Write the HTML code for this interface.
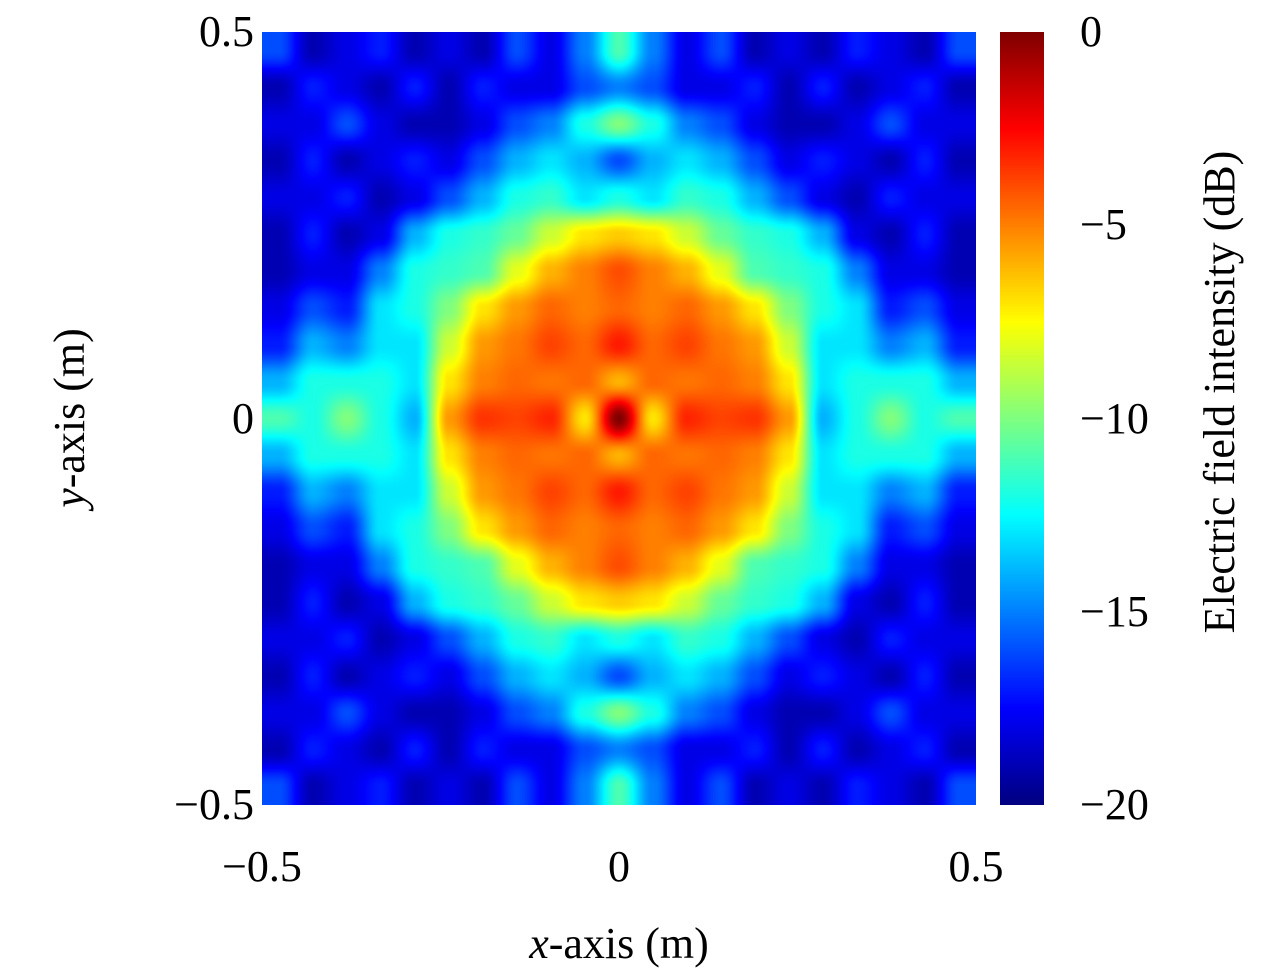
<!DOCTYPE html>
<html><head><meta charset="utf-8">
<style>
html,body{margin:0;padding:0;background:#fff;}
#wrap{position:relative;width:1280px;height:978px;overflow:hidden;font-family:"Liberation Serif",serif;color:#000;}
.t{position:absolute;font-size:44px;line-height:44px;white-space:nowrap;}
canvas{position:absolute;}
</style></head>
<body>
<div id="wrap">
<canvas id="heat" width="714" height="773" style="left:262px;top:32px"></canvas>
<canvas id="cbar" width="44" height="773" style="left:1000px;top:32px"></canvas>
<div id="labels"></div>
<div class="t" style="left:619px;top:922px;transform:translateX(-50%)"><i>x</i>-axis (m)</div>
<div class="t" style="left:70px;top:418px;transform:translate(-50%,-50%) rotate(-90deg)"><i>y</i>-axis (m)</div>
<div class="t" style="left:1220px;top:392px;transform:translate(-50%,-50%) rotate(-90deg)">Electric field intensity (dB)</div>
</div>
<script>
// Quarter data (vertical offset j rows, horizontal offset i cols), dB values
const quarter = [
 [0,-7,-3.2,-3.8,-3.5,-5.5,-14,-12,-10,-12,-11],
 [-6,-4.5,-4.8,-4.5,-5,-7,-13,-12,-12,-12,-14],
 [-3,-4.5,-3.8,-4.8,-5.5,-8.5,-13,-13,-15,-14,-17],
 [-4.5,-5,-4.5,-5.5,-7,-10,-12,-13,-17,-16,-18],
 [-4,-5,-6,-8,-11,-11.5,-12,-15,-18,-18,-19],
 [-6.5,-7,-8.5,-10.5,-11.5,-12,-14,-18,-19,-17,-19],
 [-12,-13,-11.5,-12,-14,-16,-18,-19,-17,-18,-18],
 [-16,-14,-13,-14,-16,-18,-17,-18,-19,-17,-19],
 [-10,-12,-15,-16,-18,-19,-19,-18,-16,-18,-18],
 [-15,-16,-18,-18,-17,-19,-17,-19,-18,-17,-19],
 [-11,-15,-18,-16,-19,-18,-19,-17,-18,-19,-16]
];
const xTicks = [-0.5, 0, 0.5];
const yTicks = [0.5, 0, -0.5];
const cTicks = [0, -5, -10, -15, -20];
const cMin = -20, cMax = 0;

const N = quarter.length - 1;
function cellVal(r, c){ return quarter[Math.abs(r - N)][Math.abs(c - N)]; }
const G = 2*N + 1;
function xPix(x){ return 262 + (x + 0.5) * 714; }
function yPix(y){ return 32 + (0.5 - y) * 773; }
function jet(v){
  let t = (v - cMin) / (cMax - cMin); t = Math.max(0, Math.min(1, t));
  const cl = a => Math.max(0, Math.min(1, a));
  return [cl(1.5 - Math.abs(4*t - 3))*255, cl(1.5 - Math.abs(4*t - 2))*255, cl(1.5 - Math.abs(4*t - 1))*255];
}
(function(){
  const cv = document.getElementById('heat'), ctx = cv.getContext('2d');
  const W = cv.width, H = cv.height, img = ctx.createImageData(W, H);
  const sm = t => t*t*(3-2*t);
  for (let py = 0; py < H; py++){
    const fy = Math.max(0, Math.min(G - 1.0001, (py + 0.5) / H * G - 0.5));
    const r0 = Math.floor(fy), ty = sm(fy - r0);
    for (let px = 0; px < W; px++){
      const fx = Math.max(0, Math.min(G - 1.0001, (px + 0.5) / W * G - 0.5));
      const c0 = Math.floor(fx), tx = sm(fx - c0);
      const v = (cellVal(r0,c0)*(1-tx) + cellVal(r0,c0+1)*tx)*(1-ty) + (cellVal(r0+1,c0)*(1-tx) + cellVal(r0+1,c0+1)*tx)*ty;
      const col = jet(v), k = (py*W + px)*4;
      img.data[k]=col[0]; img.data[k+1]=col[1]; img.data[k+2]=col[2]; img.data[k+3]=255;
    }
  }
  ctx.putImageData(img, 0, 0);
  const cb = document.getElementById('cbar'), cx = cb.getContext('2d');
  for (let py = 0; py < cb.height; py++){
    const v = cMax - (py + 0.5) / cb.height * (cMax - cMin);
    const c = jet(v);
    cx.fillStyle = 'rgb(' + c.map(Math.round).join(',') + ')';
    cx.fillRect(0, py, cb.width, 1);
  }
  const lab = document.getElementById('labels');
  const fmt = v => (v < 0 ? '\u2212' : '') + Math.abs(v);
  xTicks.forEach(v => {
    const d = document.createElement('div');
    
    
    d.className = 't'; d.textContent = fmt(v);
    d.style.left = xPix(v) + 'px'; d.style.top = '845px'; d.style.transform = 'translateX(-50%)';
    lab.appendChild(d);
  });
  yTicks.forEach(v => {
    const d = document.createElement('div');
    
    
    d.className = 't'; d.textContent = fmt(v);
    d.style.right = (1280 - 254) + 'px'; d.style.top = (yPix(v) - 22) + 'px';
    lab.appendChild(d);
  });
  cTicks.forEach(v => {
    const d = document.createElement('div');
    
    
    d.className = 't'; d.textContent = fmt(v);
    d.style.left = '1080px'; d.style.top = (32 + (cMax - v) / (cMax - cMin) * 773 - 22) + 'px';
    lab.appendChild(d);
  });
})();
</script>
</body></html>
